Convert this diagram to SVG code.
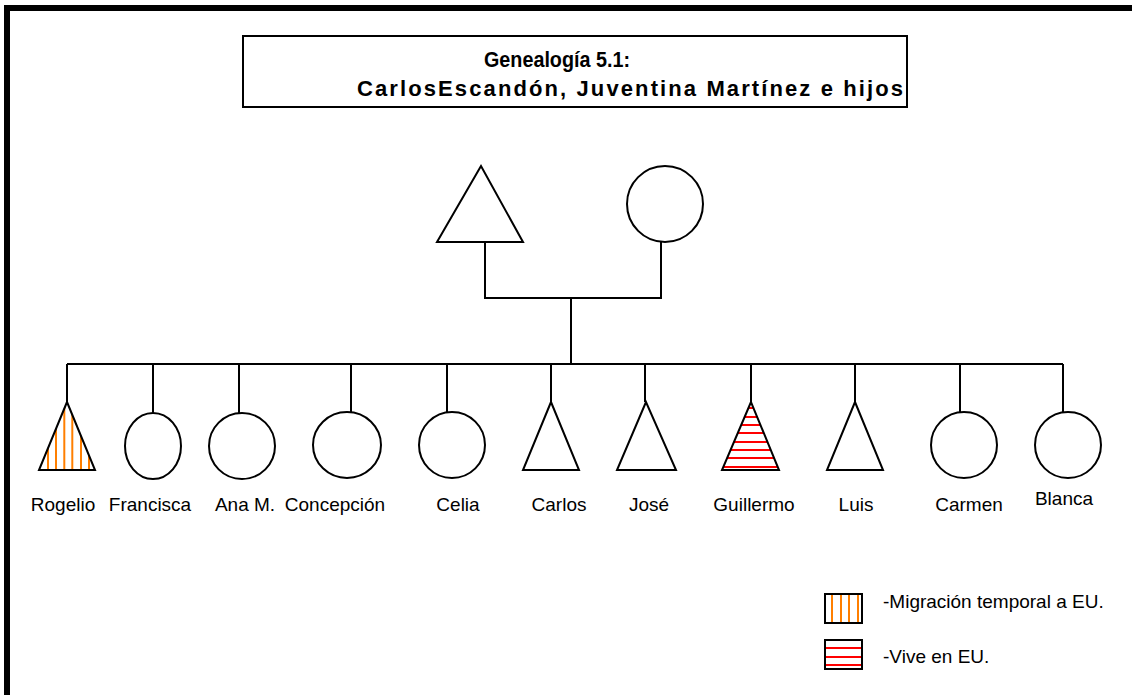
<svg xmlns="http://www.w3.org/2000/svg" width="1132" height="695" viewBox="0 0 1132 695">
  <style>
    .frame { fill: none; stroke: #000; stroke-width: 6; }
    .shape { fill: #fff; stroke: #000; stroke-width: 2; }
    .outline { fill: none; stroke: #000; stroke-width: 2; }
    .link { fill: none; stroke: #000; stroke-width: 2; }
    .orange { stroke: #ff7f00; stroke-width: 2; }
    .red { stroke: #ff0000; stroke-width: 2; }
    .title { font-family: "Liberation Sans", Arial, sans-serif; font-weight: bold; font-size: 22px; fill: #000; }
    .label { font-family: "Liberation Sans", Arial, sans-serif; font-size: 19px; fill: #000; }
  </style>
  <defs>
    <clipPath id="clip-rogelio"><polygon points="67,402 39,470 95,470"/></clipPath>
    <clipPath id="clip-guillermo"><polygon points="751,402 722,470 779,470"/></clipPath>
  </defs>

  <rect width="1132" height="695" fill="#fff"/>
  <!-- outer frame: left and top edges only -->
  <path class="frame" d="M7,695 V8 H1132"/>

  <g id="title">
    <rect x="243" y="36" width="664" height="71" fill="#fff" stroke="#000" stroke-width="2"/>
    <text class="title" x="484" y="67" textLength="146" lengthAdjust="spacingAndGlyphs">Genealogía 5.1:</text>
    <text class="title" x="357" y="96" textLength="546" lengthAdjust="spacing">CarlosEscandón, Juventina Martínez e hijos</text>
  </g>

  <g id="connectors">
    <path class="link" d="M485,242 V298 H661 V242"/>
    <path class="link" d="M571,298 V364"/>
    <path class="link" d="M67,364 H1063"/>
    <path class="link" d="M67,364 V402 M153,364 V413 M239,364 V413 M351,364 V412 M447,364 V412 M551,364 V402 M645,364 V402 M751,364 V402 M855,364 V402 M960,364 V412 M1063,364 V412"/>
  </g>

  <g id="carlos-escandon">
    <polygon class="shape" points="481,166 437,242 523,242"/>
  </g>
  <g id="juventina-martinez">
    <circle class="shape" cx="665" cy="204" r="38"/>
  </g>

  <g id="rogelio">
    <polygon points="67,402 39,470 95,470" fill="#fff"/>
    <g clip-path="url(#clip-rogelio)">
      <path class="orange" d="M48,400 V472 M56,400 V472 M64.3,400 V472 M72.3,400 V472 M81,400 V472 M89,400 V472"/>
    </g>
    <polygon class="outline" points="67,402 39,470 95,470"/>
    <text class="label" x="63" y="511" text-anchor="middle">Rogelio</text>
  </g>
  <g id="francisca">
    <ellipse class="shape" cx="153" cy="446" rx="28" ry="33"/>
    <text class="label" x="150" y="511" text-anchor="middle">Francisca</text>
  </g>
  <g id="ana-m">
    <ellipse class="shape" cx="242" cy="446" rx="33" ry="33"/>
    <text class="label" x="245" y="511" text-anchor="middle">Ana M.</text>
  </g>
  <g id="concepcion">
    <ellipse class="shape" cx="347" cy="445" rx="34" ry="33"/>
    <text class="label" x="335" y="511" text-anchor="middle">Concepción</text>
  </g>
  <g id="celia">
    <ellipse class="shape" cx="452" cy="445" rx="33" ry="33"/>
    <text class="label" x="458" y="511" text-anchor="middle">Celia</text>
  </g>
  <g id="carlos">
    <polygon class="shape" points="551,402 523,470 579,470"/>
    <text class="label" x="559" y="511" text-anchor="middle">Carlos</text>
  </g>
  <g id="jose">
    <polygon class="shape" points="646,402 617,470 676,470"/>
    <text class="label" x="649" y="511" text-anchor="middle">José</text>
  </g>
  <g id="guillermo">
    <polygon points="751,402 722,470 779,470" fill="#fff"/>
    <g clip-path="url(#clip-guillermo)">
      <path class="red" d="M720,408 H782 M720,417 H782 M720,425 H782 M720,433 H782 M720,442 H782 M720,450 H782 M720,458 H782 M720,467 H782"/>
    </g>
    <polygon class="outline" points="751,402 722,470 779,470"/>
    <text class="label" x="754" y="511" text-anchor="middle">Guillermo</text>
  </g>
  <g id="luis">
    <polygon class="shape" points="855,402 827,470 883,470"/>
    <text class="label" x="856" y="511" text-anchor="middle">Luis</text>
  </g>
  <g id="carmen">
    <ellipse class="shape" cx="964" cy="445" rx="33" ry="33"/>
    <text class="label" x="969" y="511" text-anchor="middle">Carmen</text>
  </g>
  <g id="blanca">
    <ellipse class="shape" cx="1068" cy="445" rx="33" ry="33"/>
    <text class="label" x="1064" y="505" text-anchor="middle">Blanca</text>
  </g>

  <g id="legend">
    <rect x="825" y="594" width="37" height="29" fill="#fff"/>
    <path class="orange" d="M832,595 V622 M841,595 V622 M849,595 V622 M858,595 V622"/>
    <rect class="outline" x="825" y="594" width="37" height="29"/>
    <text class="label" x="883" y="608">-Migración temporal a EU.</text>

    <rect x="825" y="640" width="37" height="29" fill="#fff"/>
    <path class="red" d="M826,648 H861 M826,657 H861 M826,665 H861"/>
    <rect class="outline" x="825" y="640" width="37" height="29"/>
    <text class="label" x="883" y="663">-Vive en EU.</text>
  </g>
</svg>
